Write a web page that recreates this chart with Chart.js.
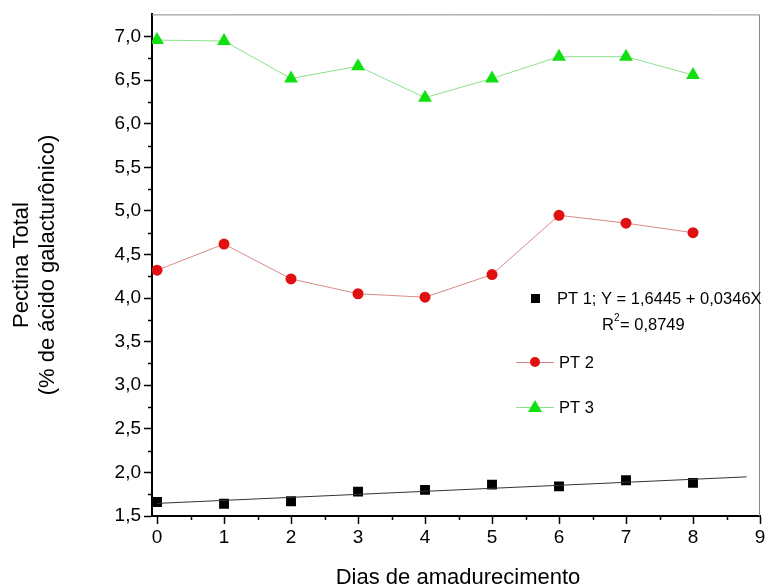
<!DOCTYPE html>
<html>
<head>
<meta charset="utf-8">
<script src="https://cdn.jsdelivr.net/npm/chart.js@4"></script>
<style>
  html, body { margin: 0; padding: 0; background: #fff; }
  #wrap { width: 768px; height: 588px; }
</style>
</head>
<body>
<div id="wrap"><canvas id="chart" width="768" height="588"></canvas></div>
<script>
// days of ripening
const dias = [0, 1, 2, 3, 4, 5, 6, 7, 8];

// pectin values
const pt1 = [1.66, 1.64, 1.67, 1.78, 1.80, 1.86, 1.84, 1.91, 1.88];
const pt2 = [4.32, 4.62, 4.22, 4.05, 4.01, 4.27, 4.95, 4.86, 4.75];
const pt3 = [6.96, 6.95, 6.52, 6.66, 6.30, 6.52, 6.77, 6.77, 6.56];

// ends of the PT 1 fitted line
const fitX = [0, 8.8];
const fitY = [1.6445, 1.949];

const xTicks = [0, 1, 2, 3, 4, 5, 6, 7, 8, 9];
const yTicks = [1.5, 2.0, 2.5, 3.0, 3.5, 4.0, 4.5, 5.0, 5.5, 6.0, 6.5, 7.0];

function pts(xs, ys) {
  return xs.map((x, i) => ({ x: x, y: ys[i] }));
}

const FONT = "'Liberation Sans', Arial, sans-serif";

// extra drawing: frame, minor ticks, axis titles, legend
const extras = {
  id: 'extras',
  afterDraw(chart) {
    const ctx = chart.ctx;
    const a = chart.chartArea;
    const xs = chart.scales.x;
    const ys = chart.scales.y;
    ctx.save();

    // thin frame top and right
    ctx.strokeStyle = '#888';
    ctx.lineWidth = 1;
    ctx.beginPath();
    ctx.moveTo(a.left, a.top + 0.5);
    ctx.lineTo(a.right - 0.5, a.top + 0.5);
    ctx.lineTo(a.right - 0.5, a.bottom);
    ctx.stroke();

    // minor ticks
    ctx.strokeStyle = '#000';
    ctx.lineWidth = 1.5;
    ctx.beginPath();
    for (let v = 1.75; v < 7.2; v += 0.5) {
      const py = Math.round(ys.getPixelForValue(v)) + 0.5;
      ctx.moveTo(a.left - 4, py);
      ctx.lineTo(a.left, py);
    }
    for (let v = 0.5; v < 9; v += 1) {
      const px = Math.round(xs.getPixelForValue(v)) + 0.5;
      ctx.moveTo(px, a.bottom);
      ctx.lineTo(px, a.bottom + 4);
    }
    ctx.stroke();

    // axis titles
    ctx.fillStyle = '#000';
    ctx.font = '22px ' + FONT;
    ctx.textAlign = 'center';
    ctx.textBaseline = 'middle';
    ctx.fillText('Dias de amadurecimento', 458, 578);
    ctx.save();
    ctx.translate(22, 265);
    ctx.rotate(-Math.PI / 2);
    ctx.fillText('Pectina Total', 0, 0);
    ctx.fillText('(% de ácido galacturônico)', 0, 26);
    ctx.restore();

    // legend
    ctx.font = '16.5px ' + FONT;
    ctx.textAlign = 'left';
    ctx.fillStyle = '#000';
    ctx.fillRect(531, 294, 9, 9);
    ctx.fillText('PT 1; Y = 1,6445 + 0,0346X', 557, 299);
    ctx.fillText('R', 602, 325);
    ctx.font = '10px ' + FONT;
    ctx.fillText('2', 614, 318);
    ctx.font = '16.5px ' + FONT;
    ctx.fillText('= 0,8749', 620, 325);

    ctx.lineWidth = 1;
    ctx.strokeStyle = '#d88a8a';
    ctx.beginPath();
    ctx.moveTo(516, 362.5);
    ctx.lineTo(554, 362.5);
    ctx.stroke();
    ctx.fillStyle = '#e01010';
    ctx.beginPath();
    ctx.arc(535, 362, 5, 0, Math.PI * 2);
    ctx.fill();
    ctx.fillStyle = '#000';
    ctx.fillText('PT 2', 559, 363);

    ctx.strokeStyle = '#8ee08e';
    ctx.beginPath();
    ctx.moveTo(516, 407.5);
    ctx.lineTo(554, 407.5);
    ctx.stroke();
    ctx.fillStyle = '#10e010';
    ctx.beginPath();
    ctx.moveTo(535, 400);
    ctx.lineTo(542, 412);
    ctx.lineTo(528, 412);
    ctx.closePath();
    ctx.fill();
    ctx.fillStyle = '#000';
    ctx.fillText('PT 3', 559, 408);

    ctx.restore();
  }
};

new Chart(document.getElementById('chart'), {
  type: 'scatter',
  data: {
    datasets: [
      {
        label: 'PT 1 fit',
        data: pts(fitX, fitY),
        showLine: true,
        borderColor: '#333',
        borderWidth: 1,
        pointRadius: 0
      },
      {
        label: 'PT 1',
        data: pts(dias, pt1),
        pointStyle: 'rect',
        pointRadius: 7,
        backgroundColor: '#000',
        borderColor: '#000',
        borderWidth: 0
      },
      {
        label: 'PT 2',
        data: pts(dias, pt2),
        showLine: true,
        borderColor: '#d88a8a',
        borderWidth: 1,
        pointStyle: 'circle',
        pointRadius: 5.5,
        pointBackgroundColor: '#e01010',
        pointBorderColor: '#e01010',
        pointBorderWidth: 0
      },
      {
        label: 'PT 3',
        data: pts(dias, pt3),
        showLine: true,
        borderColor: '#8ee08e',
        borderWidth: 1,
        pointStyle: 'triangle',
        pointRadius: 8,
        pointBackgroundColor: '#10e010',
        pointBorderColor: '#10e010',
        pointBorderWidth: 0
      }
    ]
  },
  options: {
    responsive: false,
    animation: false,
    layout: { padding: { top: 13, right: 3, left: 0, bottom: 0 } },
    plugins: {
      legend: { display: false },
      tooltip: { enabled: false }
    },
    scales: {
      x: {
        type: 'linear',
        min: -0.075,
        max: 9,
        afterBuildTicks(scale) {
          scale.ticks = xTicks.map(v => ({ value: v }));
        },
        afterFit(scale) { scale.height = 72; },
        border: { display: true, color: '#000', width: 2 },
        grid: { drawOnChartArea: false, tickLength: 8, tickColor: '#000', tickWidth: 1.5 },
        ticks: {
          color: '#000',
          font: { family: FONT, size: 19 },
          padding: 2,
          maxRotation: 0,
          callback: v => String(v)
        }
      },
      y: {
        type: 'linear',
        min: 1.5,
        max: 7.255,
        afterBuildTicks(scale) {
          scale.ticks = yTicks.map(v => ({ value: v }));
        },
        afterFit(scale) { scale.width = 152; },
        border: { display: true, color: '#000', width: 2 },
        grid: { drawOnChartArea: false, tickLength: 8, tickColor: '#000', tickWidth: 1.5 },
        ticks: {
          color: '#000',
          font: { family: FONT, size: 19 },
          padding: 3,
          callback: v => v.toFixed(1).replace('.', ',')
        }
      }
    }
  },
  plugins: [extras]
});
</script>
</body>
</html>
